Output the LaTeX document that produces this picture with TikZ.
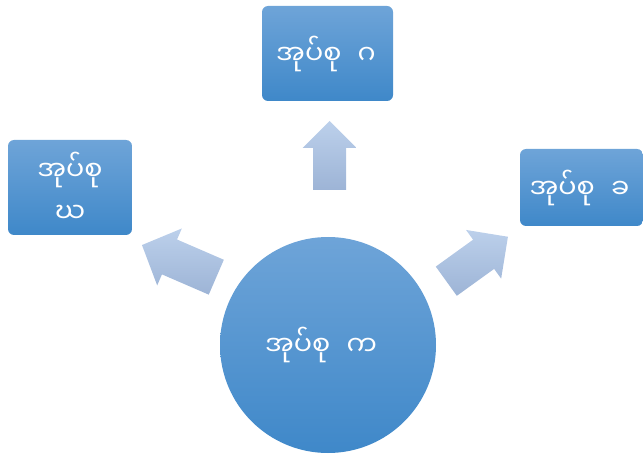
\documentclass[tikz,border=0pt]{standalone}
\usepackage{fontspec}
\newfontfamily\mmfont[Script=Myanmar]{Noto Sans Myanmar UI}
\usetikzlibrary{calc}
\definecolor{boxtop}{HTML}{6EA4D8}
\definecolor{boxbot}{HTML}{3F88C9}
\definecolor{arrtop}{HTML}{BCD0EB}
\definecolor{arrbot}{HTML}{9DB4D6}
\tikzset{
  boxnode/.style={rectangle, rounded corners=6pt, top color=boxtop, bottom color=boxbot,
    text=white, inner sep=0pt, align=center, font=\mmfont\fontsize{27}{42}\selectfont},
  circnode/.style={circle, top color=boxtop, bottom color=boxbot, text=white, inner sep=0pt,
    minimum size=216pt, font=\mmfont\fontsize{27}{42}\selectfont},
  arrowfill/.style={top color=arrtop, bottom color=arrbot, draw=none}
}
% #1 base coordinate, #2 direction angle, #3 length, #4 shaft half width, #5 head length, #6 head half width
\newcommand\blockarrow[6]{%
  \shade[arrowfill]
    ($(#1)+({#2+90}:#4)$) --
    ($(#1)+({#2+90}:#4)+(#2:{#3-#5})$) --
    ($(#1)+({#2+90}:#6)+(#2:{#3-#5})$) --
    ($(#1)+(#2:#3)$) --
    ($(#1)+({#2-90}:#6)+(#2:{#3-#5})$) --
    ($(#1)+({#2-90}:#4)+(#2:{#3-#5})$) --
    ($(#1)+({#2-90}:#4)$) -- cycle;}
\begin{document}
\begin{tikzpicture}[x=1pt,y=1pt]
\useasboundingbox (0,0) rectangle (643,456);
\node[circnode] (ka) at (328,111) {\hspace{-14pt}အုပ်စု\hspace{0.6em}က};
\node[boxnode, minimum width=131pt, minimum height=95pt] (ga) at (327.5,402.5) {\hspace{-3pt}အုပ်စု\hspace{0.6em}ဂ};
\node[boxnode, minimum width=124pt, minimum height=95pt] (gha) at (70,268.5) {အုပ်စု\\ဃ};
\node[boxnode, minimum width=123pt, minimum height=77pt] (kha) at (581.5,268.5) {\hspace{-4pt}အုပ်စု\hspace{0.6em}ခ};
\coordinate (upbase) at (329.5,266);
\coordinate (leftbase) at (216.3,178.8);
\coordinate (rightbase) at (446.3,174.8);
\blockarrow{upbase}{90}{69}{16.5}{27}{27}
\blockarrow{leftbase}{156.6}{81}{19}{30}{31}
\blockarrow{rightbase}{35.8}{76}{18}{30}{30}
\end{tikzpicture}
\end{document}
